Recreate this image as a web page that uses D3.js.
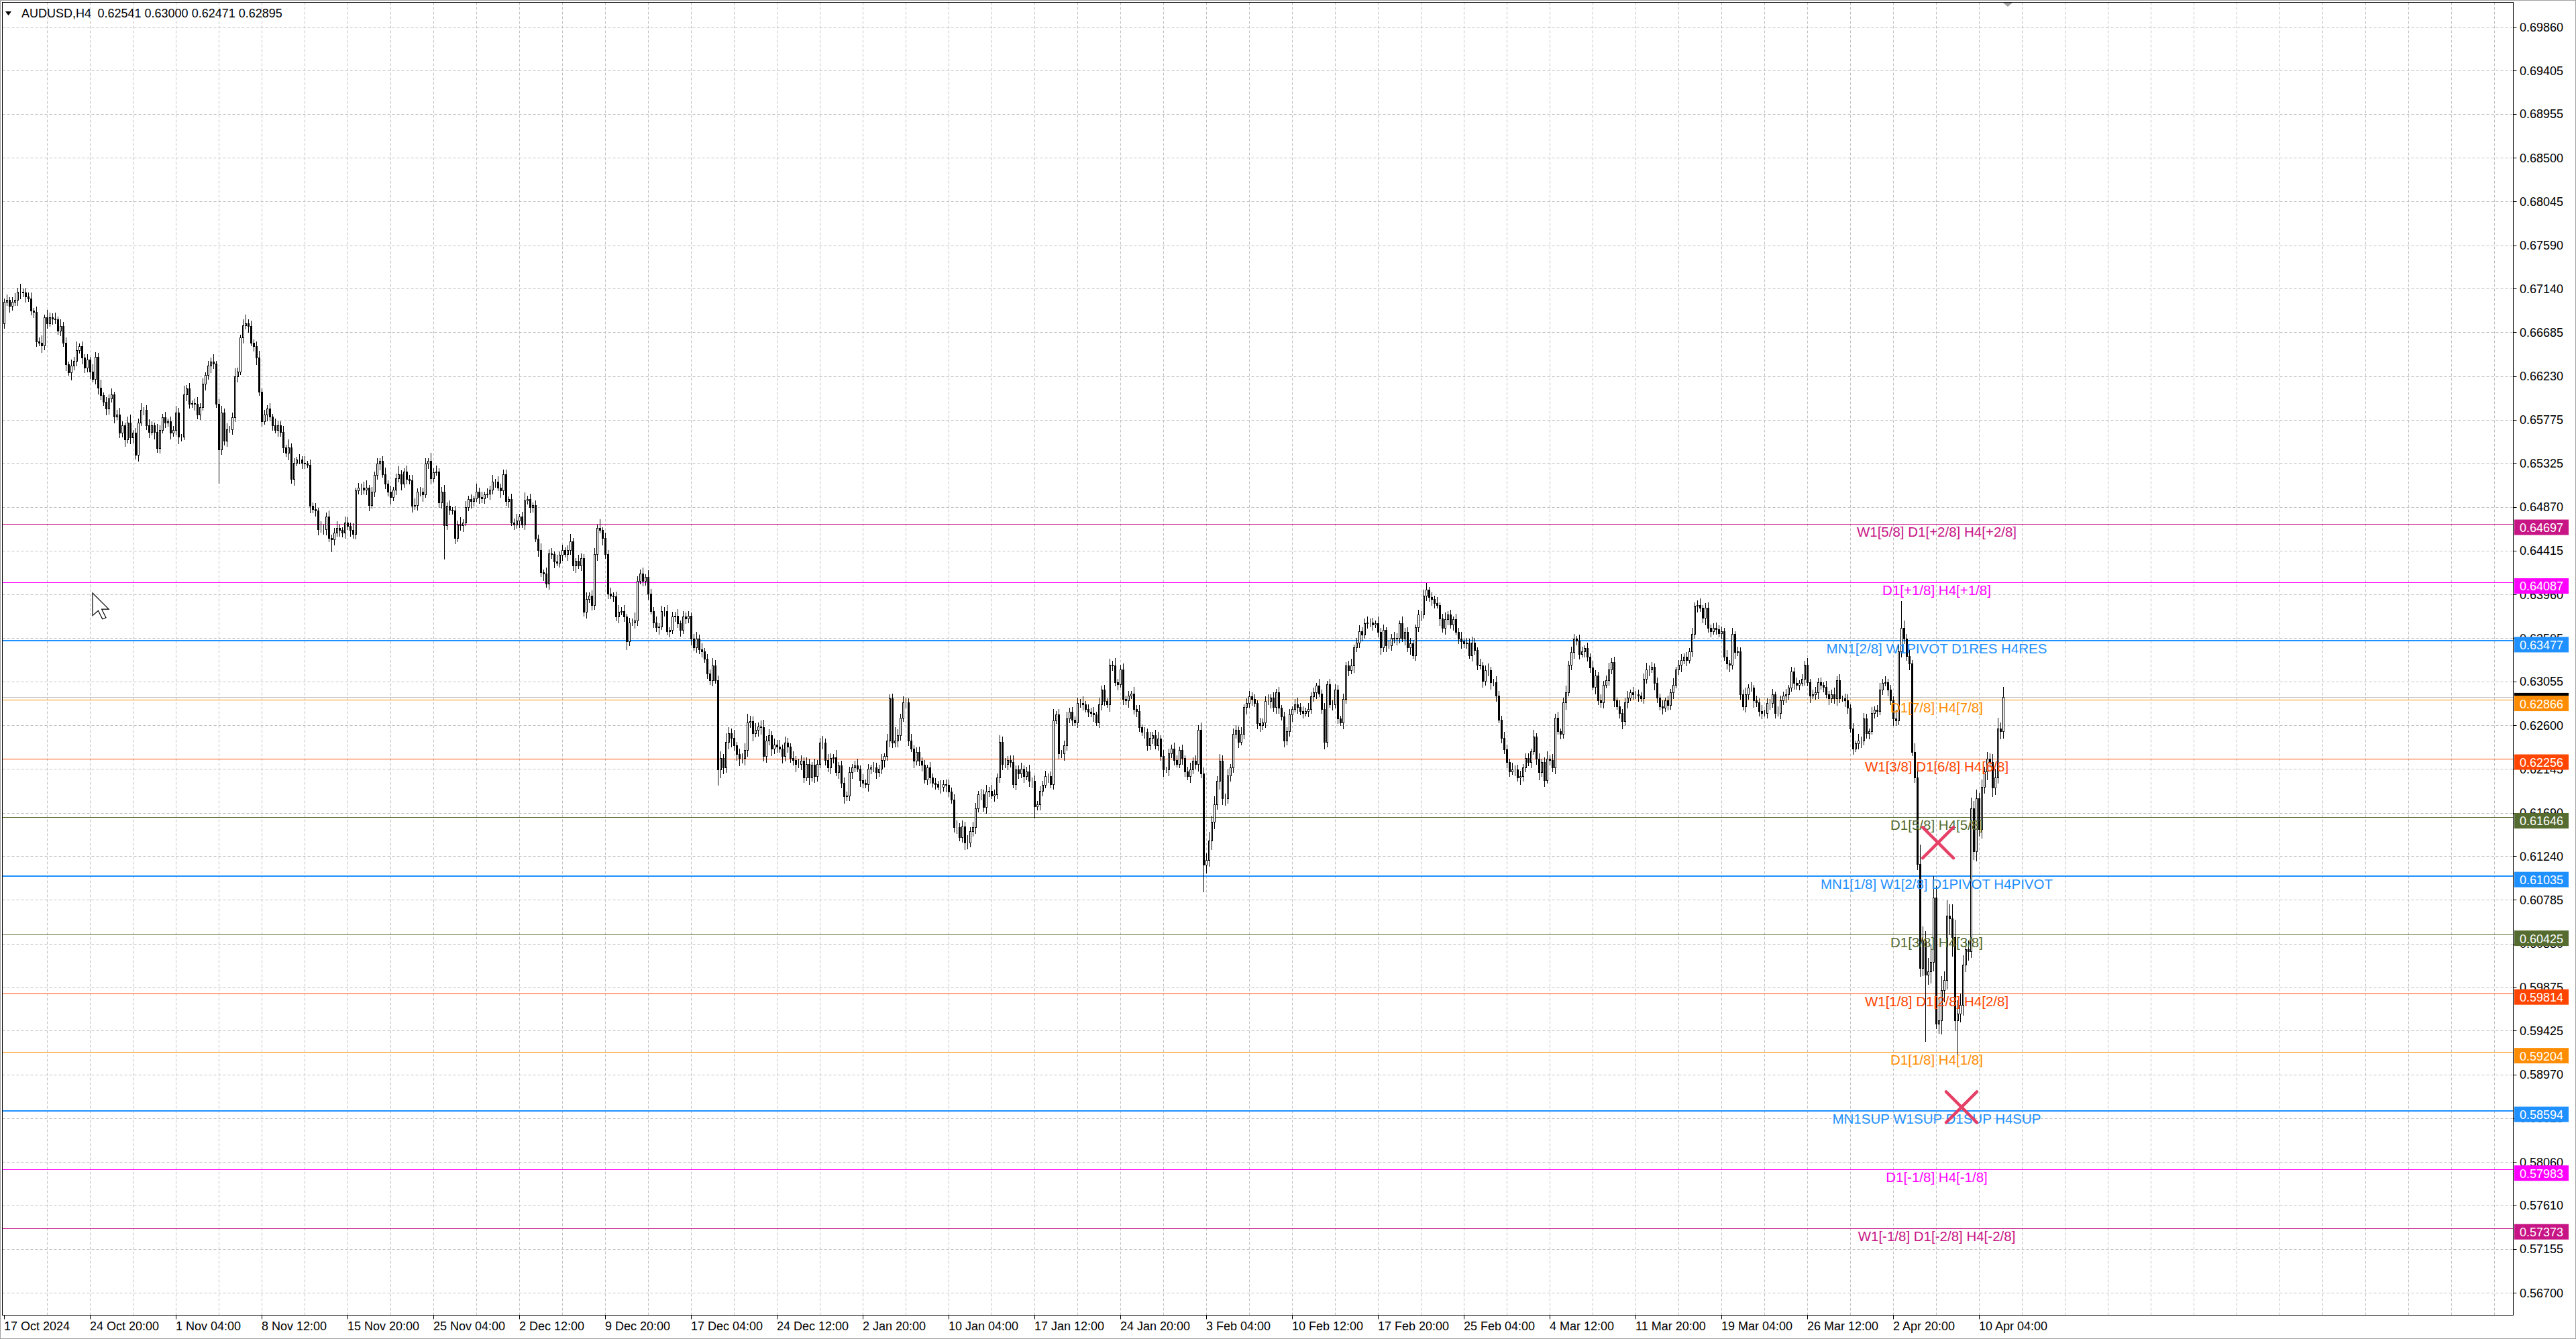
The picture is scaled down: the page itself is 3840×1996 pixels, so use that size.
<!DOCTYPE html>
<html>
<head>
<meta charset="utf-8">
<title>AUDUSD,H4</title>
<script src="https://d3js.org/d3.v7.min.js"></script>
<style>
  body { margin: 0; background: #fff; }
  text { font-family: "Liberation Sans", Arial, sans-serif; }
</style>
</head>
<body>
<script>
// ---- data (prices in pips, 1 pip = 0.0001) ----
var symbol = "AUDUSD,H4";
var lastOHLC = ["0.62541", "0.63000", "0.62471", "0.62895"];
var bidPrice = 0.62895;
var firstOpen = 6678;

// H4 closes, 17 Oct 2024 12:00 onward
var closesOctNov = [
  6700,6702,6696,6700,6702,6711,6711,6710,6706,6704,
  6691,6690,6659,6658,6655,6684,6678,6684,6683,6682,
  6670,6675,6658,6635,6627,6634,6639,6650,6654,6642,
  6632,6640,6628,6620,6643,6611,6603,6596,6589,6600,
  6604,6581,6583,6564,6572,6557,6575,6559,6564,6541,
  6575,6588,6588,6572,6565,6572,6565,6548,6567,6580,
  6575,6576,6564,6567,6585,6560,6560,6604,6610,6594,
  6595,6594,6583,6591,6615,6624,6634,6638,6636,6594,
  6547,6585,6556,6568,6568,6580,6623,6628,6663,6676,
  6678,6675,6658,6654,6642,6607,6576,6583,6589,6581,
  6572,6567,6572,6565,6549,6543,6549,6516,6533,6536,
  6536,6533,6532,6531,6488,6485,6483,6464,6464,6464,
  6477,6455,6453,6460,6465,6463,6460,6471,6467,6463,
  6459,6504,6507,6507,6505,6507,6489,6503,6520,6532,
  6535,6521,6511,6503,6497,6505,6517,6521,6511,6524,
  6516,6515,6488,6489,6503,6503,6500,6532,6535,6517,
  6523,6524,6492,6503,6468,6488,6484,6483,6455,6469,
  6468,6471,6487,6495,6493,6496,6503,6497,6496,6500,
  6501,6505,6513,6513,6507,6504,6521
];
var closesDecJan = [
  6493,6495,6471,6469,6473,6477,6469,6494,6495,6487,
  6489,6454,6442,6419,6418,6407,6439,6438,6430,6429,
  6437,6442,6438,6442,6451,6426,6431,6426,6434,6378,
  6391,6395,6385,6438,6465,6463,6455,6438,6397,6395,
  6394,6373,6378,6379,6373,6347,6367,6367,6369,6410,
  6418,6410,6414,6397,6379,6367,6362,6363,6379,6379,
  6358,6359,6373,6374,6366,6359,6373,6371,6374,6350,
  6341,6350,6339,6337,6329,6314,6307,6322,6307,6214,
  6226,6216,6243,6252,6247,6239,6230,6226,6226,6234,
  6263,6264,6252,6255,6259,6258,6228,6244,6250,6236,
  6240,6238,6236,6228,6242,6238,6226,6224,6220,
  6220,6223,6206,6220,6206,6219,6207,6220,6242,6242,
  6224,6216,6226,6227,6211,6218,6200,6186,6187,
  6211,6216,6218,6215,6203,6200,6199,6215,6216,6216,
  6211,6215,6224,6228,6244,6288,6242,6244,6250,6268,
  6284,6284,6244,6236,6223,6232,6223,6219,6204,6216,
  6206,6200,6199,6196,6196,6199,6198,6191,6183,
  6154,6154,6144,6155,6138,6138,6150,6154,6174,6188,
  6188,6175,6191,6192,6187,6188,6206,6243,6220,
  6220,6224,6222,6199,6214
];
var closesJanFeb = [
  6210,6215,6207,6212,6202,6202,6176,6178,6192,6198,
  6207,6207,6199,6265,6271,6231,6231,6239,6267,
  6274,6266,6263,6283,6283,6282,6277,6274,6273,6271,
  6263,6282,6297,6285,6282,6323,6322,6305,6303,6318,
  6287,6286,6291,6293,6277,6275,6258,6253,6253,6239,
  6247,6250,6239,6246,6228,6214,6214,6231,6236,6224,
  6220,6234,6226,6212,6207,6214,6223,6220,6255,6210,
  6115,6120,6140,6160,6178,6202,6223,6184,6184,6208,
  6216,6251,6255,6243,6251,6279,6283,6290,6287,6283,
  6262,6260,6263,6285,6285,6289,6279,6294,6278,
  6269,6244,6254,6271,6277,6282,6279,6275,6273,6275,
  6277,6290,6294,6301,6293,6277,6243,6303,6282,
  6282,6297,6267,6263,6287,6322,6317,6322,6341,6346,
  6358,6354,6366,6367,6367,6365,6366,6357,6341,
  6359,6343,6343,6351,6350,6351,6366,6350,6357,6341,
  6345,6333,6362,6375,6375,6395,6401,6393,6391,6387,
  6385,6371,6361,6370,6375,6365,6370,6357,6350,
  6347,6345,6346,6333,6346,6338,6323,6322,6306,
  6317,6317,6305,6305,6291,6266,6247,6235,6222,6212,
  6214,6214,6206,6207,6216,6226
];
var closesFebApr = [
  6222,6233,6248,6225,6211,6222,6203,6225,6224,6216,
  6268,6254,6251,6284,6294,6323,6336,6350,6348,6334,
  6337,6340,6331,6320,6300,6312,6286,6284,6302,6307,
  6318,6326,6286,6280,6273,6264,6284,6289,6294,
  6292,6292,6291,6288,6308,6318,6318,6321,6304,
  6289,6280,6278,6286,6281,6294,6302,6318,6323,6328,
  6331,6328,6337,6355,6384,6385,6382,6372,6382,6361,
  6358,6361,6360,6356,6358,6331,6324,6323,6355,6336,
  6337,6292,6280,6292,6299,6299,6286,6284,6275,6273,
  6273,6283,6283,6292,6273,6273,6286,6291,6292,
  6299,6316,6304,6302,6304,6308,6323,6305,6291,6292,
  6294,6305,6302,6300,6292,6288,6292,6288,
  6307,6288,6288,6286,6278,6257,6236,6241,6244,6244,
  6267,6252,6254,6273,6276,6275,6297,6304,6305,6297,
  6286,6267,6265,6337,6361,6350,6332,6324,6232,6206,
  6116,6008,6036,6001,6004,6014,6081,5950,5953,5985,
  5995,6062,6059,6040,5953,5960,5969,6011,6027,6025,
  6174,6129,6184,6152,6196,6212,6225,6222,6195,6206,
  6257,6254,6289.5
];

// upper / lower shadow length above / below the body, pips
var wickUp = [
  // Oct-Nov
  4,6,3,5,7,4,8,3,5,4, 6,3,5,4,7,3,8,5,4,6, 3,7,4,5,3,6,4,9,3,5, 4,6,3,7,5,4,8,3,5,4,
  6,3,5,7,4,3,6,8,3,5, 4,7,3,5,6,4,3,8,5,4, 6,3,5,4,7,5,3,9,4,6, 3,5,7,4,6,3,5,4,8,3,
  5,7,4,6,3,5,8,4,3,6, 9,4,6,3,5,7,3,5,4,6, 3,7,5,4,6,3,8,4,5,3, 6,4,7,3,5,4,6,3,8,5,
  4,6,3,5,7,4,3,6,5,4, 7,3,5,4,6,8,3,5,4,6, 3,5,7,4,6,3,5,8,4,3, 6,4,5,7,3,5,4,6,3,8,
  4,6,3,5,7,4,6,3,5,4, 7,3,6,4,5,3,8,4,6,3, 5,4,7,3,6,4,5,
  // Dec-Jan
  5,3,6,4,7,3,5,8,4,6, 3,5,4,7,3,6,4,5,3,7, 4,6,3,5,8,4,3,6,5,4, 7,3,5,6,4,9,3,5,4,6,
  3,5,7,4,6,3,5,4,8,5, 4,6,3,7,5,4,6,3,5,4, 6,3,5,4,7,3,6,4,5,3, 5,7,4,6,3,5,4,8,6,5,
  7,4,9,6,5,8,4,6,5,7, 9,6,5,7,4,6,8,5,6,4, 6,5,7,4,6,5,3,7,4, 5,6,4,7,5,3,6,4,5,7,
  4,6,5,3,7,4,5,6,4, 6,4,5,7,3,6,4,5,3,6, 5,4,6,3,7,4,5,14,6,4, 6,5,4,7,3,5,6,4,5,3,
  6,4,5,3,7,4,5,6,4, 5,7,4,6,5,8,4,6,5,4, 6,5,7,4,6,5,4,7,5, 6,4,5,7,4,
  // Jan-Feb
  4,6,3,5,7,4,6,3,5,4, 6,3,5,12,4,6,3,5,7,4, 5,3,6,4,7,3,5,4,6,3, 7,4,5,3,6,4,8,3,5,6,
  4,5,3,7,4,6,3,5,4,6, 3,5,7,4,6,3,5,4,6,5, 4,6,3,5,7,4,6,5,8,6, 7,9,6,8,5,7,6,5,7,4,
  6,5,4,7,3,5,6,4,5,3, 6,4,5,7,3,5,4,6,3,5, 4,6,3,5,7,4,5,3,6,4, 5,3,7,4,6,3,5,4,6,5,
  3,6,4,5,7,3,5,6,4,5, 6,4,5,3,7,4,6,3,5,4, 6,5,3,7,4,5,6,4,3,5, 4,6,7,3,5,4,6,3,5,7,
  4,5,3,6,4,7,3,5,4,6, 5,3,6,4,5,7,4,3,6,5, 4,6,5,3,7,4,5,6,4,5,
  // Feb-Apr
  5,3,7,4,6,3,5,8,4,6, 4,6,3,5,7,4,6,5,3,6, 5,3,6,4,7,5,3,6,4,5, 7,4,5,3,6,4,5,7,3,6,
  4,5,3,6,7,4,5,3,6,4, 6,3,5,4,7,3,5,6,4,5, 3,6,4,5,7,3,5,6,4,5, 6,4,5,3,7,4,6,3,5,4,
  5,7,4,6,3,5,4,6,3,5, 4,6,3,7,5,4,6,3,5,4, 6,3,5,4,7,3,5,6,4,5, 3,6,4,5,7,4,6,3,5,6,
  4,5,3,7,4,6,5,3,6,4, 5,7,4,6,3,5,4,9,6,28, 8,5,6,4,9,12,20,15,10,14, 18,22,12,25,14,9,16,12,15,18,
  14,12,10,8,9,11,7,9,6,8, 5,7,6,8,9,11,6,10.5
];
var wickDn = [
  // Oct-Nov
  5,3,6,4,3,5,7,4,6,3, 4,6,5,3,7,4,5,3,6,4, 3,5,4,6,3,8,4,5,3,6, 5,4,7,3,5,6,4,3,6,5,
  4,6,3,5,4,7,3,6,5,4, 6,3,5,4,6,3,7,4,5,3, 5,4,6,3,5,7,4,3,6,4, 3,6,4,5,3,6,4,7,5,3,
  35,5,4,6,3,5,4,6,3,5, 4,6,3,5,7,4,5,3,6,4, 5,3,6,4,5,3,7,4,6,3, 4,6,5,3,7,4,5,6,3,5,
  6,4,12,5,3,6,4,5,3,6, 4,5,3,7,4,5,6,3,5,4, 6,3,5,4,7,3,5,4,6,3, 5,4,6,3,5,4,7,3,5,6,
  4,3,5,6,35,4,5,3,6,4, 5,6,3,4,7,5,3,6,4,5, 3,6,4,5,3,7,4,
  // Dec-Jan
  4,6,3,5,4,7,3,5,4,6, 5,3,6,4,7,3,5,4,6,3, 4,5,3,6,4,5,7,3,5,4, 6,3,5,4,6,3,7,4,5,3,
  5,4,6,3,5,8,4,3,6,5, 3,5,4,6,3,5,4,7,3,5, 4,6,3,5,4,6,3,5,4,6, 3,5,4,6,3,5,4,6,3,16,
  8,6,5,7,9,5,6,8,5,7, 6,5,8,4,6,7,5,6,4,7, 5,6,4,7,5,6,4,5,8, 4,6,5,3,7,4,6,5,4,6,
  5,4,6,5,3,6,5,7,4, 5,6,4,3,6,5,4,7,5,4, 6,4,5,7,4,6,5,4,6,5, 4,6,5,3,7,4,5,6,4,5,
  6,4,5,3,6,4,7,5,4, 5,6,4,5,7,6,4,5,6,4, 5,4,6,5,3,6,4,5,6, 4,6,5,4,6,
  // Jan-Feb
  5,4,6,3,5,7,12,4,6,5, 3,6,4,5,3,6,4,7,5,4, 6,3,5,4,6,3,5,4,7,3, 5,6,4,3,7,5,4,6,3,5,
  4,7,3,5,6,4,3,6,5,4, 6,3,5,4,7,3,6,4,5,3, 4,6,5,3,6,4,5,7,4,28, 8,6,9,7,5,8,6,7,5,6,
  5,4,6,3,5,7,4,6,3,5, 6,4,5,3,7,4,6,5,3,6, 4,5,7,3,6,4,5,3,6,4, 5,6,3,4,7,5,3,6,4,5,
  3,6,4,5,3,7,4,5,6,3, 5,4,6,3,5,7,4,6,3,5, 4,6,5,3,6,4,7,3,5,4, 6,3,5,4,6,5,3,7,4,6,
  5,4,6,3,5,7,4,5,3,6, 4,5,3,6,4,5,7,4,6,3, 5,4,6,5,3,6,4,7,5,4,
  // Feb-Apr
  4,6,3,5,7,4,6,3,5,4, 6,3,5,4,7,3,5,6,4,5, 3,6,4,5,3,7,4,5,6,3, 5,4,6,3,5,7,4,6,3,5,
  4,6,3,5,4,6,3,7,5,4, 6,3,5,4,6,3,5,7,4,6, 3,5,4,6,3,5,7,4,6,3, 5,4,6,3,5,7,4,6,3,5,
  4,6,5,3,7,4,5,6,3,5, 6,4,5,3,6,4,7,5,3,6, 4,5,3,6,4,7,3,5,6,4, 5,3,6,4,5,7,4,3,6,5,
  4,6,3,5,7,4,5,6,3,5, 6,4,5,3,6,4,7,5,4,6, 5,4,6,3,5,6,9,8,69,10, 12,9,5,10,14,12,9,16,20,10,
  39,8,10,7,9,6,8,10,7,9, 6,8,5,9,7,6,8,7
];

var priceTicks = [0.69860,0.69405,0.68955,0.68500,0.68045,0.67590,0.67140,0.66685,0.66230,0.65775,
  0.65325,0.64870,0.64415,0.63960,0.63505,0.63055,0.62600,0.62145,0.61690,0.61240,
  0.60785,0.60330,0.59875,0.59425,0.58970,0.58515,0.58060,0.57610,0.57155,0.56700];

var timeLabels = ["17 Oct 2024","24 Oct 20:00","1 Nov 04:00","8 Nov 12:00","15 Nov 20:00","25 Nov 04:00",
  "2 Dec 12:00","9 Dec 20:00","17 Dec 04:00","24 Dec 12:00","2 Jan 20:00","10 Jan 04:00",
  "17 Jan 12:00","24 Jan 20:00","3 Feb 04:00","10 Feb 12:00","17 Feb 20:00","25 Feb 04:00",
  "4 Mar 12:00","11 Mar 20:00","19 Mar 04:00","26 Mar 12:00","2 Apr 20:00","10 Apr 04:00"];
var timeTickBars = [0,32,64,96,128,160,192,224,256,288,320,352,384,416,448,480,512,544,576,608,640,672,704,736];

// Murrey / pivot levels
var levelPrices = [0.64697,0.64087,0.63477,0.62866,0.62256,0.61646,0.61035,0.60425,0.59814,0.59204,0.58594,0.57983,0.57373];
var levelNames = ["W1[5/8] D1[+2/8] H4[+2/8]","D1[+1/8] H4[+1/8]","MN1[2/8] W1PIVOT D1RES H4RES",
  "D1[7/8] H4[7/8]","W1[3/8] D1[6/8] H4[6/8]","D1[5/8] H4[5/8]","MN1[1/8] W1[2/8] D1PIVOT H4PIVOT",
  "D1[3/8] H4[3/8]","W1[1/8] D1[2/8] H4[2/8]","D1[1/8] H4[1/8]","MN1SUP W1SUP D1SUP H4SUP",
  "D1[-1/8] H4[-1/8]","W1[-1/8] D1[-2/8] H4[-2/8]"];

// signal crosses (bar index, price)
var signalBars = [720.75, 729.5];
var signalPrices = [0.6138, 0.5863];

// ---- styles ----
var levelColors = ["#c71585","#ff00ff","#1e90ff","#ff8c00","#ff4500","#556b2f","#1e90ff","#556b2f","#ff4500","#ff8c00","#1e90ff","#ff00ff","#c71585"];
var levelWidths = [1,1,2,1,1,1,2,1,1,1,2,1,1];

var W = 3840, H = 1996;
var plot = { left: 3.5, top: 3.5, right: 3746.5, bottom: 1960.5 };

var closes = [].concat(closesOctNov, closesDecJan, closesJanFeb, closesFebApr);
var n = Math.min(closes.length, wickUp.length, wickDn.length);
var bars = [];
for (var i = 0; i < n; i++) {
  var o = i === 0 ? firstOpen : closes[i - 1];
  var c = closes[i];
  bars.push({
    i: i,
    o: o / 10000,
    c: c / 10000,
    h: (Math.max(o, c) + wickUp[i]) / 10000,
    l: (Math.min(o, c) - wickDn[i]) / 10000
  });
}

var x = d3.scaleLinear().domain([0, 936]).range([6, 3750]);
var y = d3.scaleLinear().domain([0.567, 0.6986]).range([1927.2, 40.2]);
var fmt = d3.format(".5f");

var svg = d3.select("body").append("svg")
  .attr("width", W).attr("height", H)
  .style("display", "block");

svg.append("rect").attr("width", W).attr("height", H).attr("fill", "#fff");
svg.append("rect").attr("x", 0.5).attr("y", 0.5).attr("width", W - 1).attr("height", H - 1)
  .attr("fill", "none").attr("stroke", "#a0a0a0");

svg.append("clipPath").attr("id", "plotclip").append("rect")
  .attr("x", plot.left).attr("y", plot.top)
  .attr("width", plot.right - plot.left).attr("height", plot.bottom - plot.top);

var g = svg.append("g").attr("clip-path", "url(#plotclip)");

// grid
var gridBars = d3.range(16, 936, 16);
g.selectAll("line.vgrid").data(gridBars).enter().append("line")
  .attr("class", "vgrid")
  .attr("x1", function (d) { return x(d) + 0.5; })
  .attr("x2", function (d) { return x(d) + 0.5; })
  .attr("y1", plot.top).attr("y2", plot.bottom)
  .attr("stroke", "#c0c0c0").attr("stroke-dasharray", "4,3");
g.selectAll("line.hgrid").data(priceTicks).enter().append("line")
  .attr("class", "hgrid")
  .attr("x1", plot.left).attr("x2", plot.right)
  .attr("y1", function (d) { return Math.round(y(d)) + 0.5; })
  .attr("y2", function (d) { return Math.round(y(d)) + 0.5; })
  .attr("stroke", "#c0c0c0").attr("stroke-dasharray", "4,3");

// level lines
g.selectAll("line.level").data(levelPrices).enter().append("line")
  .attr("class", "level")
  .attr("x1", plot.left).attr("x2", plot.right)
  .attr("y1", function (d, k) { return Math.round(y(d)) + (levelWidths[k] === 1 ? 0.5 : 0); })
  .attr("y2", function (d, k) { return Math.round(y(d)) + (levelWidths[k] === 1 ? 0.5 : 0); })
  .attr("stroke", function (d, k) { return levelColors[k]; })
  .attr("stroke-width", function (d, k) { return levelWidths[k]; })
  .attr("shape-rendering", "crispEdges");

// bid line
g.append("line")
  .attr("x1", plot.left).attr("x2", plot.right)
  .attr("y1", Math.round(y(bidPrice)) + 0.5).attr("y2", Math.round(y(bidPrice)) + 0.5)
  .attr("stroke", "#c0c0c0").attr("shape-rendering", "crispEdges");

// candles
var cg = g.append("g").attr("shape-rendering", "crispEdges");
var candle = cg.selectAll("g.candle").data(bars).enter().append("g").attr("class", "candle");
candle.append("line")
  .attr("x1", function (d) { return x(d.i) + 0.5; })
  .attr("x2", function (d) { return x(d.i) + 0.5; })
  .attr("y1", function (d) { return Math.round(y(d.h)); })
  .attr("y2", function (d) { return Math.round(y(d.l)) + 1; })
  .attr("stroke", "#000");
candle.append("rect")
  .attr("x", function (d) { return x(d.i) - 0.5; })
  .attr("y", function (d) { return Math.round(y(Math.max(d.o, d.c))) + 0.5; })
  .attr("width", 2)
  .attr("height", function (d) {
    return Math.max(0, Math.round(y(Math.min(d.o, d.c))) - Math.round(y(Math.max(d.o, d.c))));
  })
  .attr("fill", function (d) { return d.c > d.o ? "#fff" : "#000"; })
  .attr("stroke", "#000");

// level labels on the chart
var labelBar = 720.25;
g.selectAll("text.lvl").data(levelPrices).enter().append("text")
  .attr("class", "lvl")
  .attr("x", x(labelBar))
  .attr("y", function (d) { return y(d) + 19; })
  .attr("text-anchor", "middle")
  .attr("font-size", "20.5px")
  .attr("fill", function (d, k) { return levelColors[k]; })
  .text(function (d, k) { return levelNames[k]; });

// signal crosses
var arm = 23;
g.selectAll("path.sig").data(signalBars).enter().append("path")
  .attr("class", "sig")
  .attr("d", function (d, k) {
    var cx = x(d), cy = y(signalPrices[k]);
    return "M" + (cx - arm) + "," + (cy - arm) + "L" + (cx + arm) + "," + (cy + arm) +
      "M" + (cx + arm) + "," + (cy - arm) + "L" + (cx - arm) + "," + (cy + arm);
  })
  .attr("stroke", "#e5365e").attr("stroke-width", 4.5)
  .attr("stroke-linecap", "round").attr("fill", "none").attr("opacity", 0.95);

// mouse cursor
var cur = [[0,0],[0,16],[4,12.5],[7,18.5],[9.5,17.5],[6.5,11.5],[11.5,11.5]];
svg.append("polygon")
  .attr("points", cur.map(function (p) { return (138 + p[0] * 2.1) + "," + (884 + p[1] * 2.1); }).join(" "))
  .attr("fill", "#fff").attr("stroke", "#000").attr("stroke-width", 1.2);

// chart shift marker
svg.append("polygon")
  .attr("points", [[x(746.75) - 7, 4], [x(746.75) + 7, 4], [x(746.75), 10]].map(function (p) { return p.join(","); }).join(" "))
  .attr("fill", "#a0a0a0");

// frame
svg.append("rect")
  .attr("x", plot.left).attr("y", plot.top)
  .attr("width", plot.right - plot.left).attr("height", plot.bottom - plot.top)
  .attr("fill", "none").attr("stroke", "#000").attr("shape-rendering", "crispEdges");

// price axis
var pa = svg.append("g");
pa.selectAll("line").data(priceTicks).enter().append("line")
  .attr("x1", plot.right).attr("x2", plot.right + 5)
  .attr("y1", function (d) { return Math.round(y(d)) + 0.5; })
  .attr("y2", function (d) { return Math.round(y(d)) + 0.5; })
  .attr("stroke", "#000");
pa.selectAll("text").data(priceTicks).enter().append("text")
  .attr("x", 3756)
  .attr("y", function (d) { return y(d) + 6.4; })
  .attr("font-size", "18px").attr("fill", "#000")
  .text(function (d) { return fmt(d); });

// price boxes: bid first, then levels
function priceBox(p, color) {
  var yy = y(p);
  pa.append("rect").attr("x", 3748).attr("y", yy - 6).attr("width", 81).attr("height", 23)
    .attr("fill", color);
  pa.append("text").attr("x", 3756).attr("y", yy + 12.5)
    .attr("font-size", "18px").attr("fill", "#fff").text(fmt(p));
}
priceBox(bidPrice, "#000");
levelPrices.forEach(function (p, k) { priceBox(p, levelColors[k]); });

// time axis
var ta = svg.append("g");
ta.selectAll("line").data(timeTickBars).enter().append("line")
  .attr("x1", function (d) { return x(d) + 0.5; })
  .attr("x2", function (d) { return x(d) + 0.5; })
  .attr("y1", plot.bottom).attr("y2", plot.bottom + 6)
  .attr("stroke", "#000");
ta.selectAll("text").data(timeTickBars).enter().append("text")
  .attr("x", function (d) { return x(d); })
  .attr("y", 1983)
  .attr("font-size", "18px").attr("fill", "#000")
  .text(function (d, k) { return timeLabels[k]; });

// title
svg.append("polygon").attr("points", "8,17 17,17 12.5,23").attr("fill", "#000");
svg.append("text").attr("x", 32).attr("y", 26).attr("font-size", "18px").attr("fill", "#000").text(symbol);
svg.append("text").attr("x", 145.5).attr("y", 26).attr("font-size", "18px").attr("fill", "#000").text(lastOHLC.join(" "));
</script>
</body>
</html>
